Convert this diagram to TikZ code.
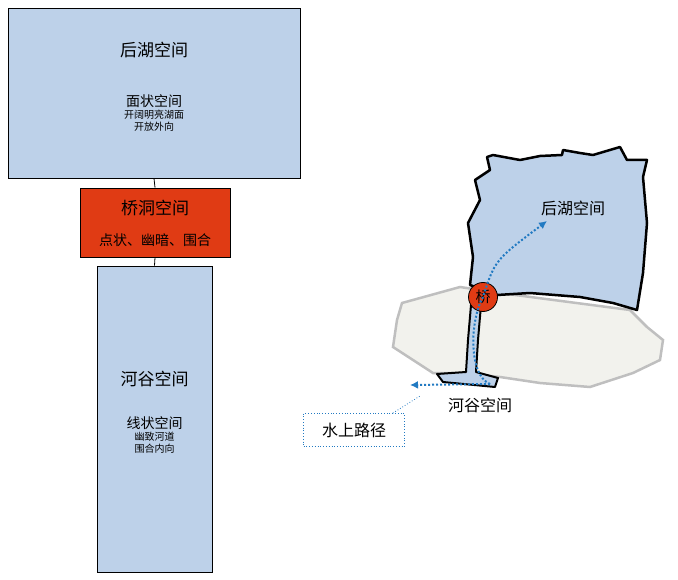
\documentclass[tikz,border=0pt]{standalone}
\usepackage{fontspec}
\setmainfont{Noto Sans CJK SC}
\usetikzlibrary{arrows.meta}
\definecolor{lakeblue}{rgb}{0.741,0.820,0.914}
\definecolor{bridgered}{rgb}{0.878,0.231,0.078}
\definecolor{landgrey}{rgb}{0.949,0.949,0.929}
\definecolor{pathblue}{rgb}{0.133,0.478,0.761}

\tikzset{
  spacebox/.style={draw,thick,fill=lakeblue,align=center,inner sep=0pt},
  pathdots/.style={pathblue,line width=2pt,dash pattern=on 2pt off 2pt,-{Latex[length=8pt,width=8pt]}},
}

\begin{document}
\begin{tikzpicture}[x=1pt,y=-1pt]
\useasboundingbox (0,0) rectangle (678,580);

% left column of spaces
\node [spacebox,minimum width=292,minimum height=170] (lake) at (154,93) {};
\node [spacebox,fill=bridgered,minimum width=150,minimum height=69] (bridge) at (155,222.5) {};
\node [spacebox,minimum width=115,minimum height=306] (valley) at (154.5,419) {};
\draw [thick] (lake.south) -- (bridge.north);
\draw [thick] (bridge.south) -- (valley.north);

\node [align=center] at (154,50) {\fontsize{17}{20}\selectfont 后湖空间};
\node [align=center] at (154,113) {\fontsize{14}{24}\selectfont 面状空间\\开阔明亮湖面\\开放外向};
\node at (155,208) {\fontsize{17}{20}\selectfont 桥洞空间};
\node at (155,240) {\fontsize{14}{17}\selectfont 点状、幽暗、围合};
\node at (154.5,379) {\fontsize{17}{20}\selectfont 河谷空间};
\node [align=center] at (154.5,435) {\fontsize{14}{24}\selectfont 线状空间\\幽致河道\\围合内向};

% map: land
\draw [line width=2.5pt,black!25,fill=landgrey]
  (402,303) -- (460,287) -- (500,293) -- (630,310) -- (647,327) -- (663,340)
  -- (660,360) -- (633,373) -- (590,387) -- (540,383) -- (500,377)
  -- (460,373) -- (433,373) -- (393,347) -- (397,320) -- cycle;
% map: lake
\draw [line width=2.5pt,fill=lakeblue,line join=round]
  (487,157) -- (493,155) -- (520,160) -- (540,156) -- (562,155) -- (563,150)
  -- (580,153) -- (593,155) -- (620,147) -- (627,160) -- (647,160) -- (643,177)
  -- (647,223) -- (643,273) -- (637,310) -- (613,303) -- (580,297) -- (530,293)
  -- (497,295) -- (470,285) -- (473,257) -- (468,223) -- (480,200) -- (475,180)
  -- (490,170) -- cycle;
% map: river
\draw [line width=2pt,fill=lakeblue,line join=round]
  (471,305) -- (481,305) -- (478,340) -- (476,372) -- (498,378) -- (495,387)
  -- (443,382) -- (437,374) -- (466,372) -- (468,340) -- cycle;

\node [circle,draw,thick,fill=bridgered,minimum size=29,inner sep=0pt] (qiao) at (483,297)
  {\fontsize{15}{17}\selectfont 桥};
\coordinate (start) at (490,384);
\coordinate (lakeend) at (547,221);
\coordinate (valleyend) at (410,385);
\draw [pathdots] (start) .. controls (468,375) and (470,320) .. (qiao.center)
  .. controls (495,260) .. (lakeend);
\draw [pathdots] (start) -- (valleyend);

\node at (573,208) {\fontsize{16}{19}\selectfont 后湖空间};
\node at (480,405) {\fontsize{16}{19}\selectfont 河谷空间};

% label for the water route
\node [draw=pathblue,dotted,thick,minimum width=101,minimum height=33,inner sep=0pt] (route) at (354,430)
  {\fontsize{16}{19}\selectfont 水上路径};
\coordinate (routetip) at (420,396);
\draw [pathblue,dotted,thick] (route.north east) ++(-12,0) -- (routetip);
\end{tikzpicture}
\end{document}
